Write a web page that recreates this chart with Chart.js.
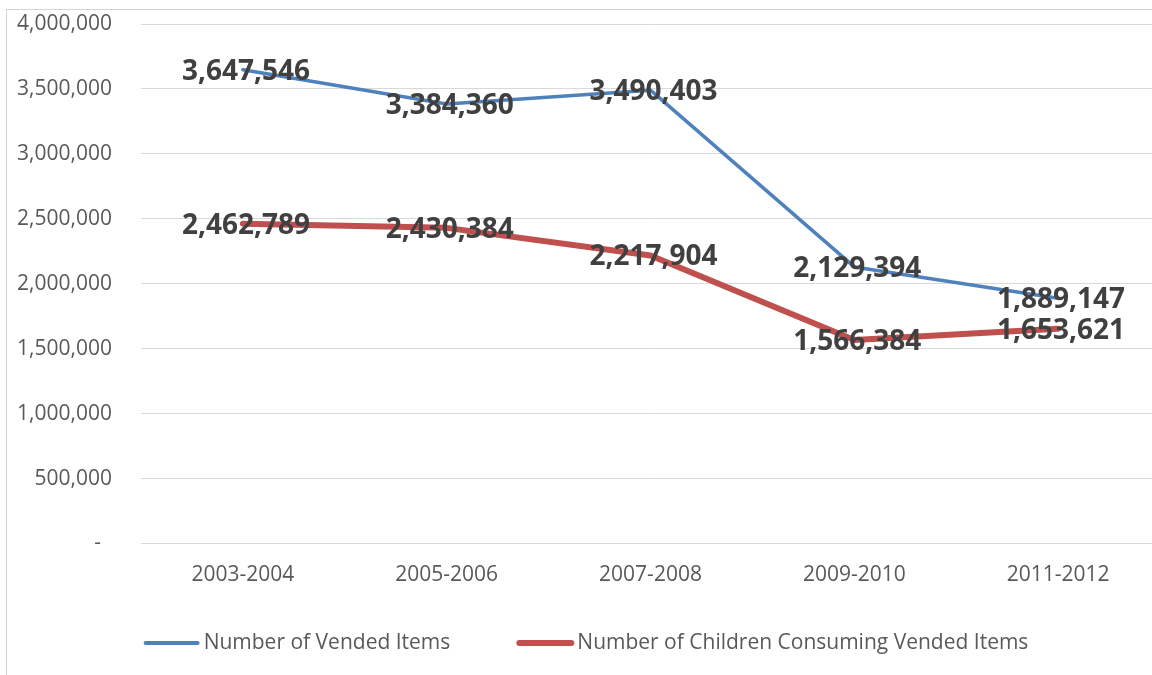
<!DOCTYPE html>
<html>
<head>
<meta charset="utf-8">
<title>Vended Items</title>
<script src="https://cdn.jsdelivr.net/npm/chart.js@4/dist/chart.umd.min.js"></script>
<style>
    html, body { margin: 0; padding: 0; background: #fff; overflow: hidden; width: 1152px; height: 675px; }
    #frame { position: absolute; left: 6px; top: 9px; width: 1200px; height: 700px; border: 1px solid #d4d4d4; box-sizing: border-box; }
    #wrap { position: absolute; left: 0; top: 0; width: 1172px; height: 675px; }
</style>
</head>
<body>
<div id="frame"></div>
<div id="wrap"><canvas id="vend-chart" width="1172" height="675"></canvas></div>
<script>
// ===== DATA =====
const seasons = ['2003-2004', '2005-2006', '2007-2008', '2009-2010', '2011-2012'];
const vendedItems = [3647546, 3384360, 3490403, 2129394, 1889147];
const childrenConsuming = [2462789, 2430384, 2217904, 1566384, 1653621];
const seriesNames = ['Number of Vended Items', 'Number of Children Consuming Vended Items'];
const yMax = 4000000;
const yStep = 500000;

const fmt = v => v.toLocaleString('en-US');

// Value labels sit centred on each point, drawn over the lines
const pointLabels = {
    id: 'pointLabels',
    afterDatasetsDraw(chart) {
        const ctx = chart.ctx;
        ctx.save();
        ctx.font = 'bold 28px "Open Sans"';
        ctx.fillStyle = '#404040';
        ctx.textAlign = 'center';
        ctx.textBaseline = 'middle';
        chart.data.datasets.forEach((ds, i) => {
            chart.getDatasetMeta(i).data.forEach((pt, j) => {
                ctx.fillText(fmt(ds.data[j]), pt.x + 3, pt.y + 2);
            });
        });
        ctx.restore();
    }
};

// Legend along the bottom: line swatch + series name, items spaced wide apart
const bottomLegend = {
    id: 'bottomLegend',
    afterDraw(chart) {
        const ctx = chart.ctx;
        const swatch = 56, textGap = 4, itemGap = 67;
        const y = chart.height - 32;
        ctx.save();
        ctx.font = '21px "Open Sans"';
        ctx.textBaseline = 'middle';
        const items = chart.data.datasets.map(ds => ({ ds, w: swatch + textGap + ctx.measureText(ds.label).width }));
        const total = items.reduce((s, it) => s + it.w, 0) + itemGap * (items.length - 1);
        let x = chart.width / 2 - total / 2;
        items.forEach(({ ds, w }) => {
            ctx.strokeStyle = ds.borderColor;
            ctx.lineWidth = Math.max(4, ds.borderWidth);
            ctx.lineCap = 'round';
            ctx.beginPath();
            ctx.moveTo(x + 2, y);
            ctx.lineTo(x + swatch - 2, y);
            ctx.stroke();
            ctx.fillStyle = '#595959';
            ctx.fillText(ds.label, x + swatch + textGap, y);
            x += w + itemGap;
        });
        ctx.restore();
    }
};

const ctx = document.getElementById('vend-chart').getContext('2d');
new Chart(ctx, {
    type: 'line',
    data: {
        labels: seasons,
        datasets: [
            {
                label: seriesNames[0], data: vendedItems,
                borderColor: '#4f81bd', backgroundColor: '#4f81bd',
                borderWidth: 3.5, pointRadius: 0, tension: 0,
                borderJoinStyle: 'round', borderCapStyle: 'round'
            },
            {
                label: seriesNames[1], data: childrenConsuming,
                borderColor: '#c0504d', backgroundColor: '#c0504d',
                borderWidth: 6, pointRadius: 0, tension: 0,
                borderJoinStyle: 'round', borderCapStyle: 'round'
            }
        ]
    },
    options: {
        responsive: false,
        animation: false,
        layout: { padding: { top: 24, left: 12, right: 12, bottom: 86.5 } },
        scales: {
            x: {
                offset: true,
                grid: { display: false, drawTicks: false, offset: true },
                border: { display: true, color: '#d9d9d9', width: 1 },
                ticks: { color: '#595959', font: { family: 'Open Sans', size: 21 }, padding: 19 },
                afterFit: s => { s.height = 45; }
            },
            y: {
                min: 0, max: yMax,
                grid: { color: '#d9d9d9', lineWidth: 1, drawTicks: false },
                border: { display: false },
                ticks: {
                    stepSize: yStep,
                    color: '#595959', font: { family: 'Open Sans', size: 21 }, padding: 29,
                    callback: v => v === 0 ? '-  ' : fmt(v)
                },
                // fixed axis width; the tick padding is only meant horizontally
                afterFit: s => { s.width = 129; s.paddingTop = 12; s.paddingBottom = 12; }
            }
        },
        plugins: {
            tooltip: { enabled: false },
            legend: { display: false }
        }
    },
    plugins: [pointLabels, bottomLegend]
});
</script>
</body>
</html>
